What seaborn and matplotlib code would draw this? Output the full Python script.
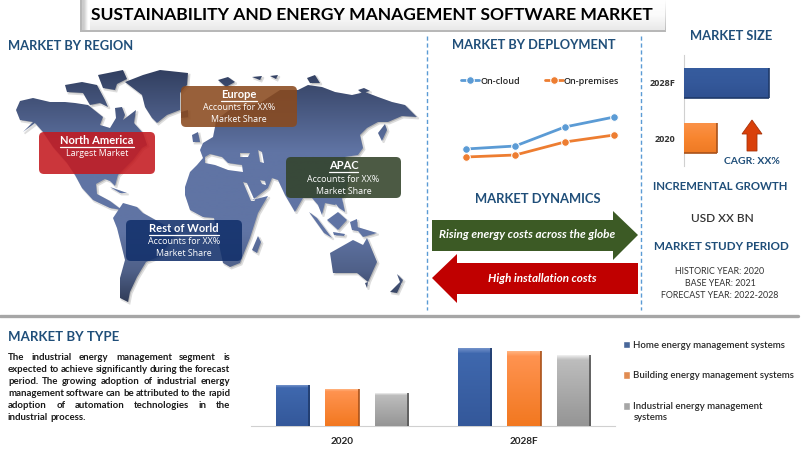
import numpy as np
import pandas as pd
import matplotlib
matplotlib.use('Agg')
import matplotlib.pyplot as plt
import seaborn as sb
from matplotlib.colors import LinearSegmentedColormap, to_rgb
from matplotlib.patches import FancyBboxPatch, PathPatch, Polygon
from matplotlib.path import Path
from matplotlib.transforms import Affine2D

# chart data
periods = [1, 2, 3, 4]
on_cloud = [2.1, 2.4, 4.3, 5.3]
on_premises = [1.3, 1.5, 2.8, 3.5]

size_years = ['2028F', '2020']
size_values = [85, 33]

type_years = ['2020', '2028F']
type_names = ['Home energy management systems', 'Building energy management systems',
              'Industrial energy management\nsystems']
home_values = [41, 78]
building_values = [37, 75]
industrial_values = [33, 71]

paragraph = [
    'The industrial energy management segment is',
    'expected to achieve significantly during the forecast',
    'period. The growing adoption of industrial energy',
    'management software can be attributed to the rapid',
    'adoption of automation technologies in the',
    'industrial process.',
]

# rough continent outlines, in picture pixels
land = [
    # north america
    [(16,110),(20,101),(33,98),(50,102),(65,102),(75,103),(88,105),(98,113),(103,117),(100,125),(110,128),(116,118),
     (115,108),(122,107),(125,115),(123,120),(136,110),(134,123),(143,133),(147,145),(142,148),(133,160),(118,175),
     (115,186),(110,181),(105,179),(96,184),(97,194),(110,201),(122,210),(110,208),(93,200),(82,188),(75,175),
     (67,163),(53,147),(43,132),(35,123),(23,132),(33,122),(20,120)],
    # canadian islands
    [(65,85),(82,82),(97,85),(105,100),(108,107),(100,103),(90,105),(83,93),(67,92)],
    [(98,75),(123,70),(127,79),(117,84),(115,90),(103,88)],
    # greenland, iceland, cuba
    [(125,82),(143,75),(160,70),(188,73),(187,85),(180,93),(180,110),(167,115),(157,123),(152,118),(145,107),(142,95)],
    [(181,112),(188,110),(188,117),(181,118)],
    [(110,187),(127,193),(120,193)],
    # south america
    [(113,218),(123,203),(137,207),(143,213),(177,232),(160,256),(146,262),(137,277),(130,292),(128,302),(120,298),
     (120,278),(125,260),(117,228)],
    # africa and eurasia in one outline
    [(185,187),(190,172),(197,165),(203,158),(200,150),(203,143),(213,137),(215,127),(216,120),(232,108),(260,103),
     (280,90),(298,90),(308,85),(322,87),(335,92),(352,95),(365,92),(378,97),(392,102),(405,105),(417,117),(402,116),
     (388,122),(378,122),(367,128),(360,135),(363,148),(358,155),(345,157),(350,175),(345,195),(335,205),(325,203),
     (322,215),(318,205),(312,198),(303,198),(295,212),(285,195),(278,180),(272,178),(268,188),(255,198),(252,200),
     (268,196),(258,213),(250,238),(240,263),(230,267),(223,263),(218,240),(214,218),(203,217),(190,210),(185,195)],
    [(252,250),(258,236),(261,242),(257,253)],
    # small northern islands
    [(218,80),(228,77),(235,82),(226,87)],
    [(252,77),(262,76),(260,80)],
    [(270,76),(278,75),(276,79)],
    [(307,78),(315,75),(320,83),(310,83)],
    [(358,90),(364,88),(370,91),(362,93)],
    # uk, japan
    [(192,135),(198,132),(200,142),(193,142)],
    [(385,124),(378,133),(382,141),(387,130)],
    # south east asia
    [(309,212),(317,218),(332,238),(324,233)],
    [(327,220),(338,212),(347,220),(338,230)],
    [(333,232),(345,234),(344,236),(334,235)],
    [(350,222),(357,219),(358,231),(352,230)],
    [(335,203),(342,198),(345,212),(339,208)],
    [(354,226),(377,233),(363,237)],
    # australia, tasmania, new zealand
    [(330,253),(353,240),(363,245),(367,238),(377,262),(368,282),(357,273),(333,273)],
    [(365,283),(368,282),(367,288)],
    [(390,292),(400,282),(397,274),(403,280),(397,293)],
]
# inland seas cut out of the big outline
seas = [
    [(205,157),(210,154),(222,157),(228,163),(242,165),(243,172),(228,170),(215,165),(205,163)],
    [(240,153),(250,153),(248,157),(240,157)],
    [(258,150),(262,152),(264,163),(260,162)],
    [(243,182),(247,183),(255,201),(251,201)],
    [(260,180),(265,181),(266,185),(262,184)],
]

regions = [
    ('Europe', 'Accounts for XX%\nMarket Share', 181, 86, 297, 127, '#8a4a1e'),
    ('North America', 'Largest Market', 39, 132, 155, 174, '#c41a20'),
    ('APAC', 'Accounts for XX%\nMarket Share', 286, 157, 401, 198, '#33432a'),
    ('Rest of World', 'Accounts for XX%\nMarket Share', 126, 220, 242, 261, '#12306b'),
]

head_col = '#1f4e79'
sb.set_style('white')
plt.rcParams['font.family'] = ['Lato', 'DejaVu Sans']

W, H = 809, 455
fig = plt.figure(figsize=(W/100, H/100), dpi=100, facecolor='white')
bg = fig.add_axes([0, 0, 1, 1])
bg.set_xlim(0, W)
bg.set_ylim(H, 0)
bg.axis('off')


def px_axes(l, t, r, b):
    ax = fig.add_axes([l/W, 1-b/H, (r-l)/W, (b-t)/H], zorder=2)
    ax.patch.set_alpha(0)
    return ax


def txt(x, y, s, size, color='black', ha='center', weight='bold', **kw):
    return bg.text(x, y, s, fontsize=size, color=color, ha=ha, va='center', weight=weight, zorder=8, **kw)


def ramp(stops, n=64):
    # stops are colours, or (position, colour) pairs
    return LinearSegmentedColormap.from_list('r', stops)(np.linspace(0, 1, n))[:, :3].reshape(n, 1, 3)


def signed_area(pts):
    x, y = np.array(pts).T
    return 0.5*np.sum(x*np.roll(y, -1)-np.roll(x, -1)*y)


def add_shape(shape, sign, verts, codes):
    # agg fills by winding, so holes have to run the other way round
    pts = list(shape)
    if signed_area(pts)*sign < 0:
        pts = pts[::-1]
    verts += pts + [pts[0]]
    codes += [Path.MOVETO] + [Path.LINETO]*(len(pts)-1) + [Path.CLOSEPOLY]


# title plate
bg.add_patch(Polygon([(80, 0), (665, 0), (666, 32), (80, 32)], fc='#b8b8b8', ec='none', zorder=1))
bg.imshow(ramp(['#ffffff', '#fbfbfb', '#e9e9e9']), extent=(82, 665, 30, 0), aspect='auto', zorder=2)
bg.imshow(np.array([[[.80, .80, .80], [1, 1, 1]]]), extent=(82, 90, 30, 0), aspect='auto', zorder=3,
          interpolation='bilinear')
txt(372, 14.5, 'SUSTAINABILITY AND ENERGY MANAGEMENT SOFTWARE MARKET', 12.6)

# headings
txt(8, 46, 'MARKET BY REGION', 9.3, head_col, ha='left')
txt(534, 45, 'MARKET BY DEPLOYMENT', 9.3, head_col)
txt(731, 36, 'MARKET SIZE', 9.3, head_col)
txt(538, 199, 'MARKET DYNAMICS', 9.4, head_col)
txt(720, 187, 'INCREMENTAL GROWTH', 8.2, head_col)
txt(722, 218, 'USD XX BN', 8.6, '#333333', weight='semibold')
txt(721, 247, 'MARKET STUDY PERIOD', 8.35, head_col)
txt(720, 271, 'HISTORIC YEAR: 2020', 6.4, '#333333', weight='normal')
txt(720, 283, 'BASE YEAR: 2021', 6.4, '#333333', weight='normal')
txt(720, 295, 'FORECAST YEAR: 2022-2028', 6.4, '#333333', weight='normal')
txt(752, 161, 'CAGR: XX%', 7.5, head_col)
txt(8, 337, 'MARKET BY TYPE', 9.5, head_col, ha='left')

# separators
for x in (427.5, 641):
    bg.plot([x, x], [36, 310], color='#5b9bd5', lw=1, ls=(0, (3, 2)), zorder=1)
bg.plot([0, 798], [316, 316], color='#a6a6a6', lw=2.4, zorder=1)

# world map with vertical gradient, clipped on the land
verts, codes = [], []
for shape in land:
    add_shape(shape, 1, verts, codes)
for shape in seas:
    add_shape(shape, -1, verts, codes)
world = Path(verts, codes)
shadow = PathPatch(world.transformed(Affine2D().translate(1.6, 1.6)), fc='#b5b5b5', ec='#dddddd', lw=1.2, zorder=3)
bg.add_patch(shadow)
cm = LinearSegmentedColormap.from_list('map', [(0, '#2f3c5c'), (0.16, '#45557c'), (0.36, '#6074a4'),
                                                (0.70, '#6074a4'), (0.86, '#4f6088'), (1, '#2d3954')])
grad = bg.imshow(np.linspace(0, 1, 256).reshape(-1, 1), cmap=cm, extent=(0, 430, 305, 65), aspect='auto', zorder=4,
                 origin='upper', vmin=0, vmax=1)
clip = PathPatch(world, transform=bg.transData, fc='none', ec='none')
bg.add_patch(clip)
grad.set_clip_path(clip)
bg.set_xlim(0, W)
bg.set_ylim(H, 0)

# region cards
for name, sub, x0, y0, x1, y1, col in regions:
    bg.add_patch(FancyBboxPatch((x0+4, y0+4), x1-x0-8, y1-y0-8, boxstyle='round,pad=4,rounding_size=5',
                                fc=col, ec='none', alpha=0.88, zorder=5))
    cx = (x0+x1)/2
    t = txt(cx, y0+8.5, name, 8, 'white')
    bb = t.get_window_extent(fig.canvas.get_renderer())
    xa, xb = bg.transData.inverted().transform([(bb.x0, 0), (bb.x1, 0)])[:, 0]
    bg.plot([xa, xb], [y0+14.5, y0+14.5], color='white', lw=0.9, zorder=8)
    for i, line in enumerate(sub.split('\n')):
        txt(cx, y0+22+i*12, line, 6.4, 'white', weight='normal', family=['Open Sans', 'DejaVu Sans'])

# dynamics arrows
bg.add_patch(Polygon([(432, 220), (613, 220), (613, 211), (638, 235), (613, 260), (613, 251), (432, 251)],
                     fc='#3c5a25', ec='none', zorder=3))
bg.add_patch(Polygon([(638, 263), (457, 263), (457, 254), (432, 278), (457, 303), (457, 294), (638, 294)],
                     fc='#c00000', ec='none', zorder=3))
txt(527, 235, 'Rising energy costs across the globe', 8.5, 'white', style='italic')
txt(542, 278, 'High installation costs', 8.4, 'white', style='italic')

# cagr arrow
bg.add_patch(Polygon([(742, 134), (752, 120), (762, 134), (757, 134), (757, 151), (747, 151), (747, 134)],
                     fc='#d9400a', ec='#a83208', lw=0.6, zorder=3))

# deployment line chart
ax1 = px_axes(441, 100, 639, 170)
line_df = pd.DataFrame({'period': periods*2, 'value': on_cloud+on_premises,
                        'deployment': ['On-cloud']*4 + ['On-premises']*4})
sb.lineplot(data=line_df, x='period', y='value', hue='deployment', palette=['#5b9bd5', '#ed7d31'], marker='o',
            markersize=5.5, lw=2, ax=ax1)
ax1.set_xlim(0.5, 4.5)
ax1.set_ylim(0, 7)
ax1.axis('off')
ax1.legend(loc='center', bbox_to_anchor=(540/W, 1-81/H), bbox_transform=fig.transFigure, ncol=2, frameon=False,
           handlelength=2, handletextpad=0.1, columnspacing=2.75, title=None,
           prop={'family': 'Open Sans', 'size': 6.5, 'weight': 'semibold'})

# market size bars
ax2 = px_axes(684, 55, 799, 166)
sb.barplot(x=size_values, y=size_years, hue=size_years, palette=['#35599a', '#f5832f'], width=0.54, legend=False,
           ax=ax2)
ax2.set_xlim(0, 115)
sb.despine(ax=ax2, left=False, bottom=True, top=True, right=True)
ax2.spines['left'].set_color('#d0d0d0')
ax2.set_xticks([])
ax2.set_xlabel('')
ax2.set_ylabel('')
ax2.tick_params(axis='y', length=0, pad=6, labelsize=6.6)
for lab in ax2.get_yticklabels():
    lab.set_fontweight('bold')
    lab.set_color('#333333')
    lab.set_family(['Open Sans', 'DejaVu Sans'])
xl, yl = ax2.get_xlim(), ax2.get_ylim()
size_stops = [['#365c9e', '#34589a', '#2f5090'], ['#fb9248', '#f8852f', '#ee7a24']]
for p, stops, edge in zip(ax2.patches, size_stops, ['#1f3a6a', '#a9521a']):
    x0, y0, w, h = p.get_x(), p.get_y(), p.get_width(), p.get_height()
    ax2.imshow(ramp(stops), extent=(x0, x0+w, y0+h, y0), aspect='auto', zorder=3)
    ax2.plot([x0+w, x0+w], [y0, y0+h], color=edge, lw=1.2, zorder=4, solid_capstyle='butt')
    ax2.plot([x0, x0+w], [y0+h, y0+h], color=edge, lw=1.2, zorder=4, solid_capstyle='butt')
    p.set_visible(False)
ax2.set_xlim(xl)
ax2.set_ylim(yl)

# market by type grouped bars
ax3 = px_axes(251, 346, 615, 426)
type_df = pd.DataFrame({'year': type_years*3,
                        'kind': [type_names[0]]*2 + [type_names[1]]*2 + [type_names[2]]*2,
                        'value': home_values+building_values+industrial_values})
sb.barplot(data=type_df, x='year', y='value', hue='kind', palette=['#3b63a8', '#f9873a', '#a6a6a6'], width=0.816,
           gap=0.324, ax=ax3)
ax3.set_ylim(0, 80)
handles, labels = ax3.get_legend_handles_labels()
# the wrapped label hangs below its swatch, so its second line goes in on its own
labels = [s.split('\n')[0] for s in labels]
ax3.legend(handles, labels, loc='upper left', bbox_to_anchor=(614/W, 1-332/H), bbox_transform=fig.transFigure,
           frameon=False, handlelength=0.8, handleheight=0.8, handletextpad=0.3, labelspacing=2.25,
           prop={'family': 'Lato', 'size': 6.95, 'weight': 'semibold'})
txt(634, 418, type_names[2].split('\n')[1], 6.95, ha='left', weight='semibold', color='#262626')
sb.despine(ax=ax3, left=True, top=True, right=True)
ax3.spines['bottom'].set_color('#d0d0d0')
ax3.set_yticks([])
ax3.set_xlabel('')
ax3.set_ylabel('')
ax3.tick_params(axis='x', length=0, pad=8, labelsize=7.2)
for lab in ax3.get_xticklabels():
    lab.set_fontweight('bold')
bar_patches = [p for p in ax3.patches if p.get_height() > 0]
bar_palette = [[(0, '#6f8fc8'), (0.06, '#3f68ae'), (1, '#34589a')]]*2 \
    + [[(0, '#ffb27e'), (0.06, '#ff9350'), (1, '#f27820')]]*2 \
    + [[(0, '#ececec'), (0.06, '#bdbdbd'), (1, '#959595')]]*2
bar_edges = ['#1f3a6a']*2 + ['#a9521a']*2 + ['#555555']*2
xl, yl = ax3.get_xlim(), ax3.get_ylim()
for p, stops, edge in zip(bar_patches, bar_palette, bar_edges):
    x0, w, h = p.get_x(), p.get_width(), p.get_height()
    ax3.imshow(ramp(stops), extent=(x0, x0+w, 0, h), aspect='auto', zorder=3, origin='upper')
    ax3.plot([x0+w, x0+w], [0, h], color=edge, lw=1.2, zorder=4, solid_capstyle='butt')
    p.set_visible(False)
ax3.set_xlim(xl)
ax3.set_ylim(yl)

# justified paragraph
rend = fig.canvas.get_renderer()
left, right = 8, 230
line_y = [357, 369, 381, 393, 405, 418]
for k, (line, y) in enumerate(zip(paragraph, line_y)):
    words = line.split()
    items = [txt(left, y, w, 6.9, '#1a1a1a', ha='left') for w in words]
    spans = [bg.transData.inverted().transform(t.get_window_extent(rend).get_points())[:, 0] for t in items]
    widths = [b-a for a, b in spans]
    if k == len(paragraph)-1:
        space = 2.2
    else:
        space = (right-left-sum(widths))/(len(words)-1)
    x = left
    for t, w in zip(items, widths):
        t.set_x(x)
        x += w+space

fig.savefig('out.png', dpi=100)
